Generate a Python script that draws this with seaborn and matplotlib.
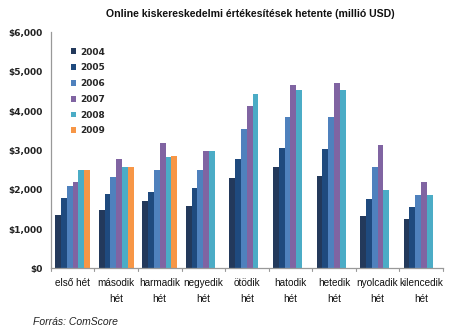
import numpy as np
import pandas as pd
import matplotlib
matplotlib.use("Agg")
import matplotlib.pyplot as plt
import seaborn as sns
from matplotlib.patches import Patch

weeks = ["első hét", "második\nhét", "harmadik\nhét", "negyedik\nhét", "ötödik\nhét",
         "hatodik\nhét", "hetedik\nhét", "nyolcadik\nhét", "kilencedik\nhét"]
years = ["2004", "2005", "2006", "2007", "2008", "2009"]

sales_2004 = [1360, 1475, 1705, 1585, 2285, 2570, 2350, 1330, 1260]
sales_2005 = [1795, 1890, 1930, 2035, 2775, 3060, 3030, 1760, 1550]
sales_2006 = [2085, 2315, 2510, 2510, 3545, 3850, 3850, 2570, 1870]
sales_2007 = [2185, 2790, 3180, 2975, 4130, 4655, 4705, 3140, 2200]
sales_2008 = [2490, 2585, 2820, 2990, 4440, 4535, 4525, 1990, 1870]
sales_2009 = [2490, 2585, 2845, np.nan, np.nan, np.nan, np.nan, np.nan, np.nan]

colors = ["#23395b", "#1f4a7e", "#4f81bd", "#8064a2", "#4bacc6", "#f79646"]

series = [sales_2004, sales_2005, sales_2006, sales_2007, sales_2008, sales_2009]
df = pd.DataFrame({
    "week": np.tile(weeks, len(years)),
    "year": np.repeat(years, len(weeks)),
    "value": np.concatenate(series),
})

sns.set_style("white")
plt.rcParams["font.family"] = ["Liberation Sans", "DejaVu Sans"]

fig = plt.figure(figsize=(4.58, 3.33), dpi=100)
ax = fig.add_axes([0.111, 0.194, 0.856, 0.709])

sns.barplot(data=df, x="week", y="value", hue="year", order=weeks, hue_order=years,
            palette=colors, width=0.8, saturation=1, errorbar=None, ax=ax,
            edgecolor="none", legend=False)

ax.set_xlim(-0.5, len(weeks) - 0.5)
ax.set_ylim(0, 6000)
ax.set_yticks(range(0, 6001, 1000))
ax.set_yticklabels([f"${v:,}" for v in range(0, 6001, 1000)],
                   fontsize=6.5, fontweight="bold", color="#222222",
                   family="DejaVu Sans")
ax.set_xticks(range(len(weeks)))
ax.set_xticklabels(weeks, fontsize=7.2, color="#111111", linespacing=1.75)
ax.tick_params(axis="x", length=0, pad=7)
ax.tick_params(axis="y", length=3, width=0.8, color="#999999", pad=3, direction="out")
# tick marks between categories
for b in np.arange(-0.5, len(weeks), 1.0):
    ax.plot([b, b], [0, -60], color="#999999", lw=0.8, clip_on=False)
ax.set_xlabel("")
ax.set_ylabel("")
for s in ["top", "right"]:
    ax.spines[s].set_visible(False)
for s in ["left", "bottom"]:
    ax.spines[s].set_color("#999999")
    ax.spines[s].set_linewidth(0.9)

handles = [Patch(facecolor=c, edgecolor="none") for c in colors]
leg = ax.legend(handles, years, loc="upper left", bbox_to_anchor=(0.03, 0.97),
                frameon=False, fontsize=6.5, handlelength=0.6, handleheight=0.6,
                handletextpad=0.4, labelspacing=0.75,
                prop={"family": "DejaVu Sans", "weight": "bold", "size": 6.5})

fig.text(0.547, 0.958, "Online kiskereskedelmi értékesítések hetente (millió USD)",
         ha="center", va="center", fontsize=7.6, fontweight="bold", color="#111111")
fig.text(0.072, 0.033, "Forrás: ComScore", ha="left", va="center",
         fontsize=7.5, style="italic", color="#222222")

fig.savefig("out.png", dpi=100)
